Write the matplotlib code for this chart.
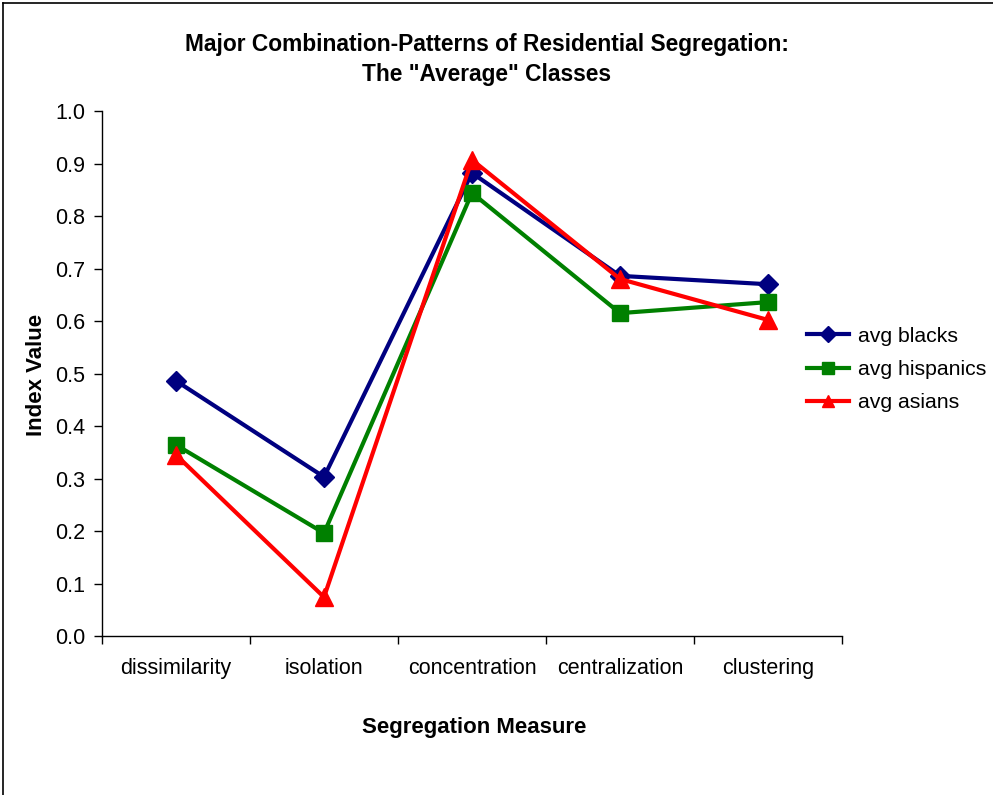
import matplotlib
matplotlib.use("Agg")
import matplotlib.pyplot as plt
from matplotlib.lines import Line2D

categories = ["dissimilarity", "isolation", "concentration", "centralization", "clustering"]
avg_blacks = [0.486, 0.303, 0.882, 0.686, 0.670]
avg_hispanics = [0.364, 0.196, 0.844, 0.615, 0.636]
avg_asians = [0.345, 0.074, 0.907, 0.680, 0.602]
yticks = [0.0, 0.1, 0.2, 0.3, 0.4, 0.5, 0.6, 0.7, 0.8, 0.9, 1.0]

plt.rcParams['font.family'] = ['Liberation Sans', 'DejaVu Sans']

W, H = 993, 795
fig = plt.figure(figsize=(W/100, H/100), dpi=100)
ax = fig.add_axes([102/W, 1-636/H, (842-102)/W, (636-111)/H])

x = list(range(len(categories)))
ax.plot(x, avg_blacks, color='#000080', lw=3, marker='D', ms=10, label='avg blacks')
ax.plot(x, avg_hispanics, color='#008000', lw=3, marker='s', ms=11, label='avg hispanics')
ax.plot(x, avg_asians, color='#FF0000', lw=3, marker='^', ms=13, label='avg asians')

ax.set_xlim(-0.5, len(categories)-0.5)
ax.set_ylim(0, 1.0)
ax.set_yticks(yticks)
ax.set_yticklabels([f"{v:.1f}" for v in yticks], fontsize=15.5)
ax.set_xticks([i-0.5 for i in range(len(categories)+1)])
ax.set_xticklabels([])
ax.set_xticks(x, minor=True)
ax.set_xticklabels(categories, minor=True, fontsize=15.5)
ax.tick_params(axis='x', which='minor', length=0, pad=16)
ax.tick_params(axis='x', which='major', direction='out', length=6, width=1)
ax.tick_params(axis='y', direction='out', length=6, width=1, pad=6)
for s in ['top', 'right']:
    ax.spines[s].set_visible(False)
for s in ['left', 'bottom']:
    ax.spines[s].set_linewidth(1)

fig.text(487/W, 1-44/H, 'Major Combination-Patterns of Residential Segregation:',
         ha='center', va='center', fontsize=16.4, fontweight='bold')
fig.text(487/W, 1-74/H, 'The "Average" Classes',
         ha='center', va='center', fontsize=16.4, fontweight='bold')
fig.text(37/W, 1-375/H, 'Index Value', rotation=90, ha='center', va='center',
         fontsize=16, fontweight='bold')
fig.text(474/W, 1-727/H, 'Segregation Measure', ha='center', va='center',
         fontsize=16, fontweight='bold')

leg = fig.legend(loc='upper left', bbox_to_anchor=(798/W, 1-318/H), frameon=False,
                 fontsize=15.3, handlelength=2.0, handletextpad=0.4, labelspacing=0.68,
                 borderaxespad=0)
for h in leg.legend_handles:
    h.set_markersize(8)

# figure border (left and top visible)
fig.add_artist(Line2D([3/W, 3/W], [0, 1-3/H], color='black', lw=1.2, transform=fig.transFigure))
fig.add_artist(Line2D([3/W, 1], [1-3/H, 1-3/H], color='black', lw=1.2, transform=fig.transFigure))

fig.savefig('out.png', dpi=100)
